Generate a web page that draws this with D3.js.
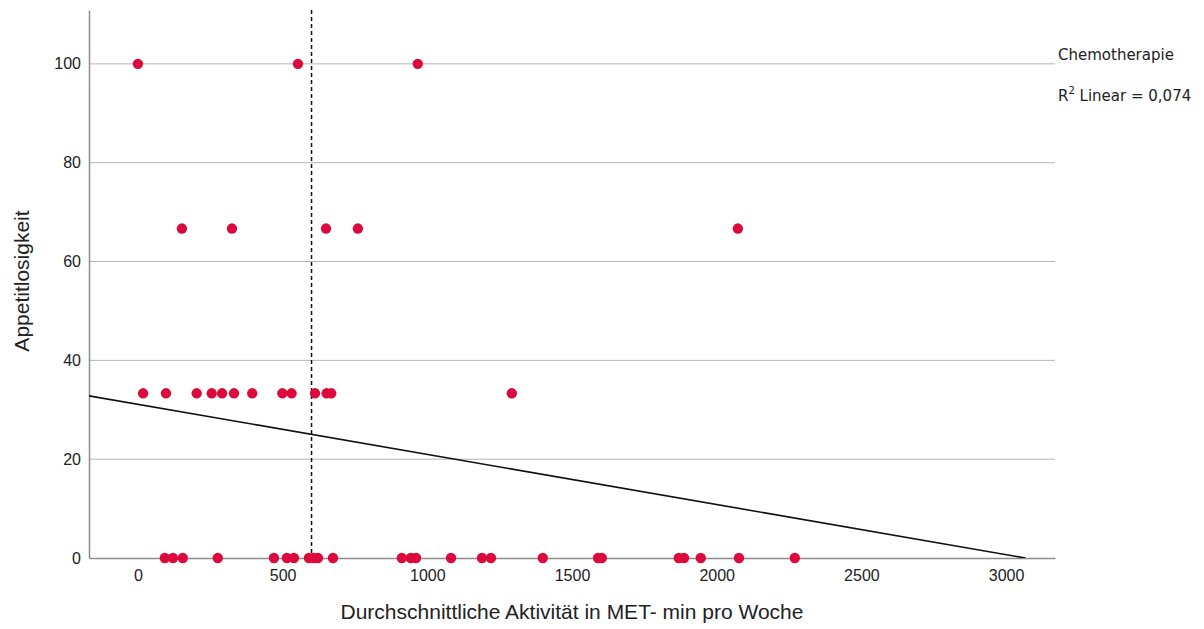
<!DOCTYPE html>
<html>
<head>
<meta charset="utf-8">
<script src="https://cdn.jsdelivr.net/npm/d3@7"></script>
<style>
  body { margin: 0; background: #fff; }
  svg { display: block; }
</style>
</head>
<body>
<svg id="chart" width="1204" height="629"></svg>
<script>
// Weekly activity (MET-min) and appetite-loss score per patient
const activity = [
  0, 553, 967,
  152, 325, 650, 760, 2073,
  18, 97, 203, 255, 291, 332, 395, 499, 531, 612, 652, 668, 1292,
  93, 121, 155, 276, 470, 515, 539, 591, 608, 622, 674, 912, 943, 961,
  1082, 1189, 1220, 1399, 1590, 1603, 1869, 1887, 1945, 2077, 2270
];
const appetiteLoss = [
  100, 100, 100,
  66.67, 66.67, 66.67, 66.67, 66.67,
  33.33, 33.33, 33.33, 33.33, 33.33, 33.33, 33.33, 33.33, 33.33, 33.33, 33.33, 33.33, 33.33,
  0, 0, 0, 0, 0, 0, 0, 0, 0, 0, 0, 0, 0, 0,
  0, 0, 0, 0, 0, 0, 0, 0, 0, 0, 0
];
const xTicks = [0, 500, 1000, 1500, 2000, 2500, 3000];
const yTicks = [0, 20, 40, 60, 80, 100];
const fitIntercept = 31.1;
const fitSlope = -0.01014;
const referenceX = 600;
const legendTitle = "Chemotherapie";
const rSquaredText = "0,074";

(function () {
  const svg = d3.select("#chart");
  const pLeft = 89, pRight = 1055, pTop = 10, pBottom = 558;

  const x = d3.scaleLinear().domain([-169, 3169]).range([pLeft, pRight]);
  const y = d3.scaleLinear().domain([0, 110.9]).range([pBottom, pTop]);

  svg.append("defs").append("clipPath").attr("id", "plot")
    .append("rect").attr("x", pLeft).attr("y", pTop)
    .attr("width", pRight - pLeft).attr("height", pBottom - pTop);

  // horizontal gridlines
  svg.append("g").selectAll("line").data(yTicks.filter(d => d > 0)).join("line")
    .attr("x1", pLeft).attr("x2", pRight)
    .attr("y1", d => y(d)).attr("y2", d => y(d))
    .attr("stroke", "#b4b4b4").attr("stroke-width", 1);

  // axes
  const yAxis = d3.axisLeft(y).tickValues(yTicks).tickFormat(d3.format("d"))
    .tickSize(0).tickPadding(8);
  const xAxis = d3.axisBottom(x).tickValues(xTicks).tickFormat(d3.format("d"))
    .tickSize(0).tickPadding(12);

  const gy = svg.append("g").attr("transform", `translate(${pLeft},0)`).call(yAxis);
  const gx = svg.append("g").attr("transform", `translate(0,${pBottom})`).call(xAxis);
  [gx, gy].forEach(g => {
    g.select(".domain").attr("stroke", "#8c8c8c").attr("stroke-width", 1.5);
    g.selectAll("text").attr("font-family", "Liberation Sans, Arial, sans-serif")
      .attr("font-size", 16).attr("fill", "#222");
  });

  // reference line at the activity threshold
  svg.append("line")
    .attr("x1", x(referenceX)).attr("x2", x(referenceX))
    .attr("y1", pTop).attr("y2", pBottom)
    .attr("stroke", "#111").attr("stroke-width", 1.5)
    .attr("stroke-dasharray", "4,3");

  // linear fit
  const xEnd = -fitIntercept / fitSlope;
  svg.append("line")
    .attr("clip-path", "url(#plot)")
    .attr("x1", x(-169)).attr("y1", y(fitIntercept + fitSlope * -169))
    .attr("x2", x(xEnd)).attr("y2", y(0))
    .attr("stroke", "#111").attr("stroke-width", 1.6);

  // points
  svg.append("g").selectAll("circle").data(activity).join("circle")
    .attr("cx", d => x(d))
    .attr("cy", (d, i) => y(appetiteLoss[i]))
    .attr("r", 5.2)
    .attr("fill", "#dc0a3c");

  // axis titles
  svg.append("text")
    .attr("x", (pLeft + pRight) / 2).attr("y", 619)
    .attr("text-anchor", "middle")
    .attr("font-family", "Liberation Sans, Arial, sans-serif")
    .attr("font-size", 21).attr("fill", "#222")
    .text("Durchschnittliche Aktivität in MET- min pro Woche");

  svg.append("text")
    .attr("transform", `translate(29,${(pTop + pBottom) / 2 - 3}) rotate(-90)`)
    .attr("text-anchor", "middle")
    .attr("font-family", "Liberation Sans, Arial, sans-serif")
    .attr("font-size", 21).attr("fill", "#222")
    .text("Appetitlosigkeit");

  // legend
  svg.append("text")
    .attr("x", 1058).attr("y", 60)
    .attr("font-family", "DejaVu Sans, sans-serif")
    .attr("font-size", 15).attr("fill", "#222")
    .text(legendTitle);

  const r2 = svg.append("text")
    .attr("x", 1058).attr("y", 101)
    .attr("font-family", "DejaVu Sans, sans-serif")
    .attr("font-size", 15).attr("fill", "#222");
  r2.append("tspan").text("R");
  r2.append("tspan").attr("dy", -7).attr("font-size", 10).text("2");
  r2.append("tspan").attr("dy", 7).text(" Linear = " + rSquaredText);
})();
</script>
</body>
</html>
